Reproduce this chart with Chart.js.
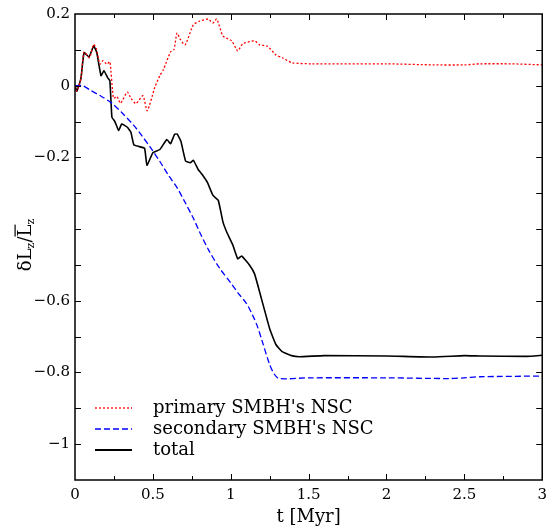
<!DOCTYPE html>
<html>
<head>
<meta charset="utf-8">
<script src="https://cdn.jsdelivr.net/npm/chart.js@4.4.0/dist/chart.umd.min.js"></script>
<style>
html,body{margin:0;padding:0;background:#fff;}
canvas{display:block;}
</style>
</head>
<body>
<canvas id="c" width="553" height="528"></canvas>
<script>
// ---- data ----
const primaryT = [0,0.012,0.038,0.058,0.093,0.119,0.137,0.16,0.18,0.204,0.224,0.247,0.269,0.292,0.336,0.359,0.391,0.436,0.464,0.513,0.545,0.568,0.613,0.635,0.655,0.675,0.707,0.76,0.8,0.855,0.886,0.91,0.95,1.006,1.045,1.077,1.153,1.185,1.236,1.29,1.33,1.395,1.52,2.0,2.3,2.5,2.6,2.8,3.0];
const primaryV = [0,-0.015,0.02,0.094,0.078,0.115,0.104,0.06,0.07,0.06,0.067,-0.035,-0.03,-0.049,-0.018,-0.035,-0.05,-0.028,-0.07,-0.004,0.028,0.045,0.094,0.1,0.147,0.13,0.114,0.17,0.18,0.186,0.175,0.186,0.139,0.125,0.097,0.117,0.125,0.114,0.11,0.086,0.078,0.064,0.061,0.061,0.058,0.058,0.061,0.061,0.058];

const secondaryT = [0,0.05,0.1,0.17,0.24,0.3,0.376,0.43,0.484,0.55,0.6,0.656,0.7,0.76,0.8,0.86,0.93,1.0,1.05,1.1,1.14,1.17,1.2,1.25,1.28,1.31,1.5,2.0,2.4,2.5,2.6,3.0];
const secondaryV = [0,0,-0.013,-0.03,-0.05,-0.075,-0.11,-0.14,-0.172,-0.215,-0.25,-0.285,-0.32,-0.37,-0.408,-0.46,-0.51,-0.55,-0.58,-0.607,-0.64,-0.67,-0.71,-0.778,-0.805,-0.817,-0.815,-0.815,-0.817,-0.815,-0.812,-0.81];

const totalT = [0,0.012,0.038,0.058,0.09,0.12,0.14,0.167,0.186,0.21,0.224,0.237,0.256,0.28,0.3,0.336,0.359,0.378,0.413,0.447,0.462,0.5,0.545,0.59,0.613,0.64,0.656,0.68,0.71,0.74,0.76,0.79,0.82,0.85,0.886,0.92,0.95,0.974,1.013,1.045,1.07,1.12,1.153,1.197,1.25,1.29,1.33,1.39,1.44,1.6,2.0,2.3,2.5,2.6,2.9,3.0];
const totalV = [0,-0.015,0.02,0.092,0.08,0.111,0.092,0.028,0.042,0.022,0.014,-0.088,-0.1,-0.125,-0.107,-0.116,-0.13,-0.165,-0.17,-0.175,-0.222,-0.187,-0.178,-0.15,-0.162,-0.135,-0.135,-0.155,-0.21,-0.215,-0.208,-0.233,-0.25,-0.27,-0.306,-0.32,-0.38,-0.408,-0.444,-0.483,-0.475,-0.5,-0.525,-0.594,-0.678,-0.722,-0.742,-0.753,-0.756,-0.753,-0.754,-0.757,-0.753,-0.754,-0.755,-0.752];

const seriesNames = ["primary SMBH's NSC", "secondary SMBH's NSC", "total"];
const xTickLabels = [0, 0.5, 1, 1.5, 2, 2.5, 3];
const xMinorTicks = [0.25, 0.75, 1.25, 1.75, 2.25, 2.75];
const yTickLabels = [0.2, 0, -0.2, -0.6, -0.8, -1];
const yTicks = [0.1, 0, -0.1, -0.2, -0.3, -0.4, -0.5, -0.6, -0.7, -0.8, -0.9, -1.0];
const xTitle = "t [Myr]";

const FONT = "'DejaVu Serif', serif";

function pts(t, v) { return t.map((x, i) => ({x: x, y: v[i]})); }

function fmt(v) {
  const s = String(Math.round(v * 100) / 100);
  return s.replace('-', '\u2212');
}

const framePlugin = {
  id: 'frame',
  afterDraw(chart) {
    const ctx = chart.ctx, a = chart.chartArea;
    const xs = chart.scales.x, ys = chart.scales.y;
    ctx.save();
    ctx.strokeStyle = '#000';
    ctx.lineWidth = 1.5;
    ctx.strokeRect(a.left, a.top, a.right - a.left, a.bottom - a.top);
    ctx.lineWidth = 1;
    ctx.beginPath();
    const xt = (v, len) => {
      const p = Math.round(xs.getPixelForValue(v)) + 0.5;
      ctx.moveTo(p, a.bottom); ctx.lineTo(p, a.bottom - len);
      ctx.moveTo(p, a.top); ctx.lineTo(p, a.top + len);
    };
    xTickLabels.forEach(v => { if (v > 0 && v < 3) xt(v, 6); });
    xMinorTicks.forEach(v => xt(v, 4));
    yTicks.forEach(v => {
      const p = Math.round(ys.getPixelForValue(v)) + 0.5;
      ctx.moveTo(a.left, p); ctx.lineTo(a.left + 6, p);
      ctx.moveTo(a.right, p); ctx.lineTo(a.right - 6, p);
    });
    ctx.stroke();

    // legend
    const legend = [
      {c: '#ff0000', d: [2, 2]},
      {c: '#0000ff', d: [6, 3]},
      {c: '#000000', d: []}
    ];
    const rows = [408, 429, 450];
    ctx.font = '18px ' + FONT;
    ctx.textBaseline = 'middle';
    ctx.textAlign = 'left';
    legend.forEach((l, i) => {
      ctx.beginPath();
      ctx.setLineDash(l.d);
      ctx.strokeStyle = l.c;
      ctx.lineWidth = i === 2 ? 1.8 : 1.3;
      ctx.moveTo(95, rows[i]); ctx.lineTo(132, rows[i]);
      ctx.stroke();
      ctx.setLineDash([]);
      ctx.fillStyle = '#000';
      ctx.fillText(seriesNames[i], 153, rows[i]);
    });

    // y axis label: δL_z / L̄_z (rotated)
    ctx.save();
    ctx.translate(31, 245);
    ctx.rotate(-Math.PI / 2);
    ctx.fillStyle = '#000';
    ctx.textBaseline = 'alphabetic';
    const big = '18px ' + FONT, small = '11px ' + FONT;
    const parts = [
      {t: '\u03b4L', f: big, dy: 0},
      {t: 'z', f: small, dy: 3},
      {t: '/', f: big, dy: 0},
      {t: 'L', f: big, dy: 0, over: true},
      {t: 'z', f: small, dy: 3}
    ];
    let total = 0;
    parts.forEach(p => { ctx.font = p.f; p.w = ctx.measureText(p.t).width; total += p.w; });
    let x = -total / 2;
    parts.forEach(p => {
      ctx.font = p.f;
      ctx.fillText(p.t, x, p.dy);
      if (p.over) {
        ctx.fillRect(x, -16.5, p.w, 1.2);
      }
      x += p.w;
    });
    ctx.restore();
    ctx.restore();
  }
};

new Chart(document.getElementById('c'), {
  type: 'line',
  data: {
    datasets: [
      {label: seriesNames[0], data: pts(primaryT, primaryV), borderColor: '#ff0000', borderWidth: 1.3, borderDash: [2, 2], pointRadius: 0, tension: 0.2, fill: false},
      {label: seriesNames[1], data: pts(secondaryT, secondaryV), borderColor: '#0000ff', borderWidth: 1.3, borderDash: [6, 3], pointRadius: 0, tension: 0.3, fill: false},
      {label: seriesNames[2], data: pts(totalT, totalV), borderColor: '#000000', borderWidth: 1.6, pointRadius: 0, tension: 0.12, fill: false}
    ]
  },
  options: {
    responsive: false,
    animation: false,
    devicePixelRatio: 1,
    layout: {padding: {top: 11, right: 8, left: 0, bottom: 0}},
    plugins: {legend: {display: false}, tooltip: {enabled: false}},
    scales: {
      x: {
        type: 'linear', min: 0, max: 3,
        grid: {display: false, drawTicks: false},
        border: {display: false},
        afterBuildTicks(s) { s.ticks = xTickLabels.map(v => ({value: v})); },
        ticks: {font: {family: FONT, size: 15}, color: '#000', padding: 6, maxRotation: 0,
          callback: v => fmt(v)},
        title: {display: true, text: xTitle, font: {family: FONT, size: 18}, color: '#000', padding: {top: 4, bottom: 0}},
        afterFit(s) { s.height = 48; }
      },
      y: {
        type: 'linear', min: -1.1, max: 0.2,
        grid: {display: false, drawTicks: false},
        border: {display: false},
        afterBuildTicks(s) { s.ticks = yTickLabels.map(v => ({value: v})); },
        ticks: {font: {family: FONT, size: 15}, color: '#000', padding: 5,
          callback: v => fmt(v)},
        afterFit(s) { s.width = 75; }
      }
    }
  },
  plugins: [framePlugin]
});
</script>
</body>
</html>
